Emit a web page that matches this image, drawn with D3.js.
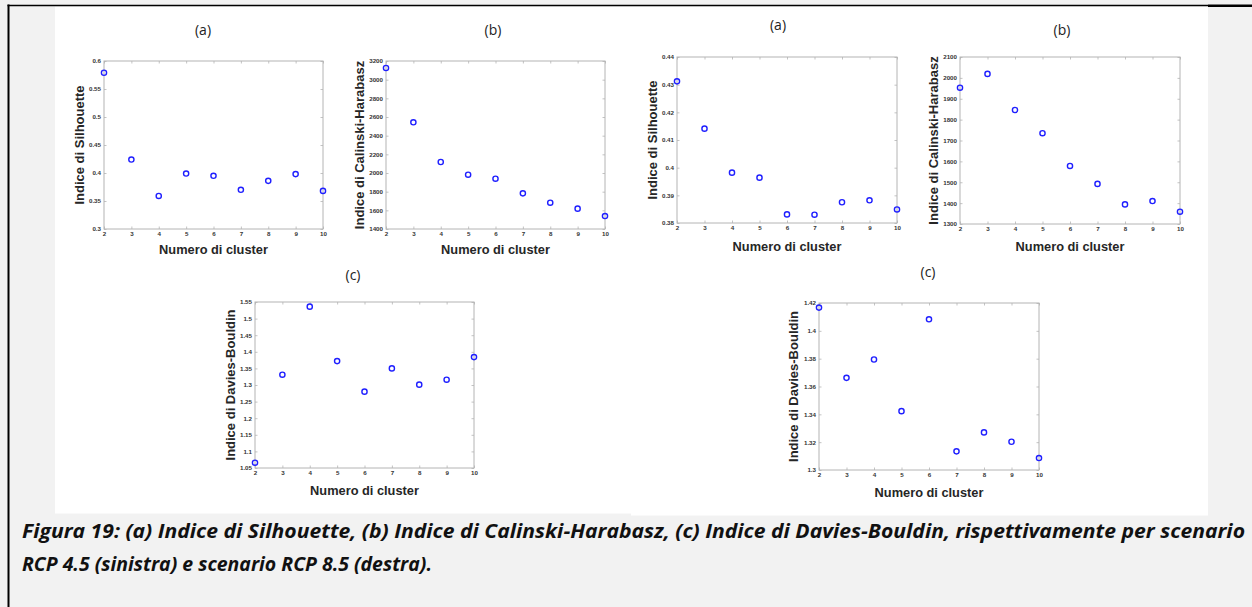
<!DOCTYPE html>
<html>
<head>
<meta charset="utf-8">
<script src="https://cdn.jsdelivr.net/npm/d3@7"></script>
<style>
  html, body { margin: 0; padding: 0; background: #f2f2f2; }
  svg { display: block; }
</style>
</head>
<body>
<svg id="fig" width="1252" height="607"></svg>
<script>
// Number of clusters tested
const clusters = [2, 3, 4, 5, 6, 7, 8, 9, 10];

// RCP 4.5 scenario
const silhouette45 = [0.579, 0.424, 0.359, 0.399, 0.395, 0.370, 0.386, 0.398, 0.368];
const calinski45   = [3125, 2543, 2118, 1982, 1939, 1782, 1682, 1618, 1539];
const davies45     = [1.066, 1.331, 1.536, 1.372, 1.280, 1.350, 1.301, 1.316, 1.384];

// RCP 8.5 scenario
const silhouette85 = [0.4312, 0.4141, 0.3982, 0.3964, 0.3831, 0.3830, 0.3875, 0.3882, 0.3849];
const calinski85   = [1953, 2019, 1846, 1735, 1578, 1492, 1394, 1410, 1359];
const davies85     = [1.4167, 1.3662, 1.3794, 1.3423, 1.4083, 1.3134, 1.3270, 1.3203, 1.3086];

// Y tick values of each panel
const silhTicks45 = [0.3, 0.35, 0.4, 0.45, 0.5, 0.55, 0.6];
const chTicks45   = [1400, 1600, 1800, 2000, 2200, 2400, 2600, 2800, 3000, 3200];
const dbTicks45   = [1.05, 1.1, 1.15, 1.2, 1.25, 1.3, 1.35, 1.4, 1.45, 1.5, 1.55];
const silhTicks85 = [0.38, 0.39, 0.4, 0.41, 0.42, 0.43, 0.44];
const chTicks85   = [1300, 1400, 1500, 1600, 1700, 1800, 1900, 2000, 2100];
const dbTicks85   = [1.3, 1.32, 1.34, 1.36, 1.38, 1.4, 1.42];

const xLabel = "Numero di cluster";
const captionLines = [
  "Figura 19: (a) Indice di Silhouette, (b) Indice di Calinski-Harabasz, (c) Indice di Davies-Bouldin, rispettivamente per scenario",
  "RCP 4.5 (sinistra) e scenario RCP 8.5 (destra)."
];

const svg = d3.select("#fig");

// page background, the two white figure areas and the frame lines
svg.append("rect").attr("width", 1252).attr("height", 607).attr("fill", "#f2f2f2");
svg.append("rect").attr("x", 55).attr("y", 6.5).attr("width", 576).attr("height", 507).attr("fill", "#ffffff");
svg.append("rect").attr("x", 631).attr("y", 6.5).attr("width", 577).attr("height", 509).attr("fill", "#ffffff");
svg.append("line").attr("x1", 8.5).attr("x2", 8.5).attr("y1", 4.5).attr("y2", 607)
  .attr("stroke", "#000").attr("stroke-width", 2);
svg.append("line").attr("x1", 7.5).attr("x2", 1208).attr("y1", 5.5).attr("y2", 5.5)
  .attr("stroke", "#000").attr("stroke-width", 1.5);
svg.append("line").attr("x1", 1208).attr("x2", 1252).attr("y1", 5.8).attr("y2", 5.8)
  .attr("stroke", "#000").attr("stroke-width", 2.6);

const panels = [
  { title: "(a)", yLabel: "Indice di Silhouette",       values: silhouette45, ticks: silhTicks45,
    box: [104, 61, 323, 229], titlePos: [203, 30], yLabelX: 79,  xLabelY: 254 },
  { title: "(b)", yLabel: "Indice di Calinski-Harabasz", values: calinski45,   ticks: chTicks45,
    box: [386, 61, 605, 229], titlePos: [493, 30], yLabelX: 359, xLabelY: 254 },
  { title: "(a)", yLabel: "Indice di Silhouette",       values: silhouette85, ticks: silhTicks85,
    box: [677, 57, 897, 223], titlePos: [778, 25], yLabelX: 652, xLabelY: 251 },
  { title: "(b)", yLabel: "Indice di Calinski-Harabasz", values: calinski85,   ticks: chTicks85,
    box: [960, 57, 1180, 224], titlePos: [1062, 30], yLabelX: 933, xLabelY: 251 },
  { title: "(c)", yLabel: "Indice di Davies-Bouldin",   values: davies45,     ticks: dbTicks45,
    box: [255, 302, 474, 468], titlePos: [353, 275], yLabelX: 230, xLabelY: 495 },
  { title: "(c)", yLabel: "Indice di Davies-Bouldin",   values: davies85,     ticks: dbTicks85,
    box: [819, 303, 1039, 470], titlePos: [928, 272], yLabelX: 793, xLabelY: 497 }
];

const boxColor = "#b4b4b4";
const tickFont = "'Liberation Sans', Arial, sans-serif";

function styleAxis(g, showLabels) {
  g.select(".domain").remove();
  g.selectAll(".tick line").attr("stroke", boxColor).attr("stroke-width", 0.8);
  g.selectAll(".tick text")
    .attr("fill", showLabels ? "#333" : "none")
    .attr("font-family", tickFont)
    .attr("font-weight", "bold")
    .attr("font-size", 6.2);
}

panels.forEach(p => {
  const [x0, y0, x1, y1] = p.box;
  const x = d3.scaleLinear().domain([2, 10]).range([x0, x1]);
  const y = d3.scaleLinear().domain([p.ticks[0], p.ticks[p.ticks.length - 1]]).range([y1, y0]);
  const fmt = d3.format("~g");
  const g = svg.append("g");

  // box
  g.append("rect").attr("x", x0).attr("y", y0).attr("width", x1 - x0).attr("height", y1 - y0)
    .attr("fill", "#fff").attr("stroke", boxColor).attr("stroke-width", 1);

  // axes with inward ticks on all four sides
  g.append("g").attr("transform", `translate(0,${y1})`)
    .call(d3.axisBottom(x).tickValues(clusters).tickFormat(fmt).tickSizeInner(-2.5).tickSizeOuter(0).tickPadding(3))
    .call(a => styleAxis(a, true));
  g.append("g").attr("transform", `translate(0,${y0})`)
    .call(d3.axisTop(x).tickValues(clusters).tickFormat("").tickSizeInner(-2.5).tickSizeOuter(0))
    .call(a => styleAxis(a, false));
  g.append("g").attr("transform", `translate(${x0},0)`)
    .call(d3.axisLeft(y).tickValues(p.ticks).tickFormat(fmt).tickSizeInner(-2.5).tickSizeOuter(0).tickPadding(3))
    .call(a => styleAxis(a, true));
  g.append("g").attr("transform", `translate(${x1},0)`)
    .call(d3.axisRight(y).tickValues(p.ticks).tickFormat("").tickSizeInner(-2.5).tickSizeOuter(0))
    .call(a => styleAxis(a, false));

  // points
  g.selectAll("circle.pt").data(clusters.map((c, i) => [c, p.values[i]]))
    .join("circle").attr("class", "pt")
    .attr("cx", d => x(d[0])).attr("cy", d => y(d[1])).attr("r", 2.6)
    .attr("fill", "none").attr("stroke", "#1f1fff").attr("stroke-width", 1.4);

  // panel letter
  g.append("text").attr("x", p.titlePos[0]).attr("y", p.titlePos[1]).attr("dy", "0.35em")
    .attr("text-anchor", "middle").attr("font-family", "'Open Sans', sans-serif")
    .attr("font-size", 14).attr("fill", "#222").text(p.title);

  // axis titles
  g.append("text").attr("x", (x0 + x1) / 2).attr("y", p.xLabelY)
    .attr("text-anchor", "middle").attr("font-family", tickFont).attr("font-weight", "bold")
    .attr("font-size", 12.8).attr("fill", "#262626").text(xLabel);
  g.append("text")
    .attr("transform", `translate(${p.yLabelX},${(y0 + y1) / 2}) rotate(-90)`)
    .attr("dy", "0.35em").attr("text-anchor", "middle")
    .attr("font-family", tickFont).attr("font-weight", "bold")
    .attr("font-size", 13).attr("fill", "#262626").text(p.yLabel);
});

// caption
const capWidths = [1223, 410];
captionLines.forEach((line, i) => {
  svg.append("text").attr("x", 22).attr("y", 538 + i * 33)
    .attr("font-family", "'Liberation Sans Narrow', 'Open Sans', sans-serif")
    .attr("font-weight", "bold").attr("font-style", "italic")
    .attr("font-size", 20).attr("fill", "#111")
    .attr("textLength", capWidths[i]).attr("lengthAdjust", "spacingAndGlyphs")
    .text(line);
});
</script>
</body>
</html>
